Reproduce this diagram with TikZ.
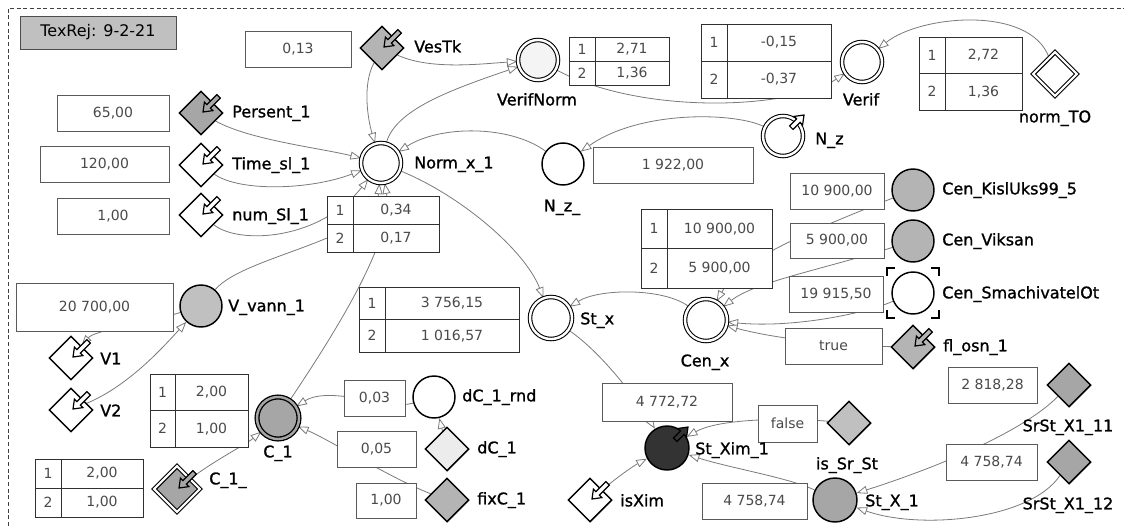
\documentclass[tikz,border=0pt]{standalone}
\usepackage{fontspec}
\setmainfont{DejaVu Sans}
\newfontfamily\lblfam[FakeBold=1.2]{DejaVu Sans}
\usetikzlibrary{shapes.geometric,arrows.meta,backgrounds}
\definecolor{lineC}{HTML}{7A7A7A}
\definecolor{boxC}{HTML}{5A5A5A}
\definecolor{tabC}{HTML}{303030}
\definecolor{valC}{HTML}{4A4A4A}
\definecolor{gA}{HTML}{A6A6A6}
\definecolor{gB}{HTML}{B4B4B4}
\definecolor{gC}{HTML}{C0C0C0}
\definecolor{gL}{HTML}{ECECEC}
\definecolor{gV}{HTML}{F4F4F4}
\definecolor{gD}{HTML}{333333}
\newcommand\valfnt{\fontsize{10.5}{12}\selectfont}
\newcommand\lblfnt{\lblfam\fontsize{12}{14}\selectfont}
\tikzset{
  conn/.style={draw=lineC, line width=0.6pt, -{Triangle[length=8pt,width=6pt,fill=white]}},
  vbox/.style n args={2}{rectangle, draw=boxC, line width=0.75pt, fill=white, inner sep=0pt,
     minimum width=#1*0.75pt, minimum height=#2*0.75pt, font=\valfnt, text=valC},
  tabbox/.style={rectangle, draw=tabC, line width=0.75pt, fill=white, inner sep=0pt},
  tabline/.style={draw=tabC, line width=0.75pt},
  vtext/.style={font=\valfnt, text=valC, inner sep=0pt},
  circ/.style={circle, draw=black, line width=1.1pt, fill=white, inner sep=0pt, minimum size=#1*1.5pt},
  dcirc/.style={circle, draw=black, line width=0.8pt, double=white, double distance=1.8pt,
     fill=white, inner sep=0pt, minimum size=(#1-2)*1.5pt},
  dia/.style={diamond, aspect=1, draw=black, line width=1.1pt, fill=white, inner sep=0pt, minimum size=#1*1.5pt},
  ddia/.style={diamond, aspect=1, draw=black, line width=0.8pt, double=white, double distance=1.6pt,
     fill=white, inner sep=0pt, minimum size=(#1-2)*1.5pt},
  lbl/.style={font=\lblfnt, text=black, inner sep=0pt, text height=9pt, text depth=2.5pt},
  frame/.style={draw=black!75, line width=0.6pt, dash pattern=on 3pt off 2pt},
  brk/.style={draw=black, line width=1.2pt},
  inarr/.pic={\draw[line width=0.9pt, fill=#1, line join=miter]
     (2,-1) -- (11.9,-2.42) -- (9.43,-4.89) -- (19.37,-14.83) -- (15.83,-18.37)
     -- (5.89,-8.43) -- (3.42,-10.9) -- cycle;},
  outarr/.pic={\draw[line width=0.9pt, fill=#1, line join=miter]
     (21,-21) -- (19.58,-11.1) -- (17.11,-13.57) -- (10.07,-6.53) -- (6.53,-10.07)
     -- (13.57,-17.11) -- (11.1,-19.58) -- cycle;}
}
\newcommand\valtab[8]{%
  \node[tabbox, minimum width={(#4-#2)*0.75pt}, minimum height={(#5-#3)*0.75pt}, anchor=north west] (#1) at (#2,#3) {};
  \draw[tabline] (#6,#3) -- (#6,#5) (#2,{(#3+#5)/2}) -- (#4,{(#3+#5)/2});
  \node[vtext] at ({(#2+#6)/2},{(3*#3+#5)/4}) {1};
  \node[vtext] at ({(#2+#6)/2},{(#3+3*#5)/4}) {2};
  \node[vtext] at ({(#6+#4)/2},{(3*#3+#5)/4}) {#7};
  \node[vtext] at ({(#6+#4)/2},{(#3+3*#5)/4}) {#8};
}
\begin{document}
\begin{tikzpicture}[x=0.75pt,y=-0.75pt]
\useasboundingbox (0,0) rectangle (1124,526);

% title
\node[rectangle, draw=black!70, line width=0.75pt, fill=gC, inner sep=0pt,
  minimum width=156*0.75pt, minimum height=33*0.75pt, font=\fontsize{12}{14}\selectfont] (tex) at (98,32.5) {TexRej: 9-2-21};

% value boxes
\node[vbox={106}{36}] (v013) at (298,49) {0,13};
\node[vbox={112}{36}] (v65) at (113,113) {65,00};
\node[vbox={129}{36}] (v120) at (104.5,164) {120,00};
\node[vbox={112}{36}] (v1) at (113,216) {1,00};
\node[vbox={160}{36}] (v1922) at (673,165) {1 922,00};
\node[vbox={94}{36}] (vkisl) at (837,191) {10 900,00};
\node[vbox={94}{35}] (vviks) at (837,240.5) {5 900,00};
\node[vbox={94}{36}] (vsmach) at (836,294) {19 915,50};
\node[vbox={97}{36}] (vtrue) at (833.5,346) {true};
\node[vbox={157}{48}] (v20700) at (94.5,307) {20 700,00};
\node[vbox={61}{36}] (v003) at (374.5,398) {0,03};
\node[vbox={79}{36}] (v005) at (376.5,449) {0,05};
\node[vbox={60}{35}] (v100b) at (386,500.5) {1,00};
\node[vbox={130}{38}] (v4772) at (667,402) {4 772,72};
\node[vbox={59}{37}] (vfalse) at (787.5,423.5) {false};
\node[vbox={105}{36}] (v4758a) at (754.5,501) {4 758,74};
\node[vbox={89}{36}] (v2818) at (992.5,385) {2 818,28};
\node[vbox={91}{36}] (v4758b) at (991.5,462) {4 758,74};

% tables
\valtab{tnorm}{327}{196}{439}{252}{353}{0,34}{0,17}
\valtab{tvn}{569}{37}{669}{85}{595}{2,71}{1,36}
\valtab{tverif}{701}{24}{831}{98}{727}{-0,15}{-0,37}
\valtab{tnto}{919}{37}{1022}{110}{945}{2,72}{1,36}
\valtab{tcen}{641}{209}{772}{288}{667}{10 900,00}{5 900,00}
\valtab{tst}{359}{287}{519}{352}{385}{3 756,15}{1 016,57}
\valtab{tcone}{150}{374}{248}{447}{175}{2,00}{1,00}
\valtab{tconeu}{35}{459}{143}{517}{61}{2,00}{1,00}

% circles
\node[dcirc=22] (normx) at (381,163) {};
\node[dcirc=22, fill=gV] (verifnorm) at (538,60) {};
\node[dcirc=22] (verif) at (862,62) {};
\node[dcirc=22] (nz) at (783,136) {};
\node[circ=21] (nzu) at (563,164) {};
\node[circ=21, fill=gB] (kisl) at (913,190) {};
\node[circ=21, fill=gB] (viks) at (913,241) {};
\node[circ=21] (smach) at (913,293) {};
\node[dcirc=23] (cenx) at (706,320) {};
\node[dcirc=23] (stx) at (551,318) {};
\node[circ=21, fill=gC] (vvann) at (201,306) {};
\node[dcirc=23, fill=gA, double=gA, line width=1pt] (cone) at (278,418) {};
\node[circ=21] (dcrnd) at (434,397) {};
\node[circ=22, fill=gD] (stxim) at (667,448) {};
\node[circ=22, fill=gA] (stxone) at (835,500) {};

% diamonds
\node[dia=22, fill=gB] (vestk) at (382,48) {};
\node[dia=22, fill=gA] (persent) at (201,113) {};
\node[dia=22] (timesl) at (201,165) {};
\node[dia=22] (numsl) at (201,215) {};
\node[ddia=24] (normto) at (1055,74) {};
\node[dia=22, fill=gB] (flosn) at (913,347) {};
\node[dia=22] (vone) at (71,358) {};
\node[dia=22] (vtwo) at (71,410) {};
\node[ddia=25, fill=gA] (coneu) at (177,489) {};
\node[dia=22, fill=gL] (dcone) at (447,449) {};
\node[dia=22, fill=gB] (fixc) at (447,500) {};
\node[dia=22, fill=gC] (dfalse) at (849,423) {};
\node[dia=22] (isxim) at (590,500) {};
\node[dia=22, fill=gA] (srsta) at (1069,385) {};
\node[dia=22, fill=gA] (srstb) at (1069,462) {};

% icons
\pic at (382,48) {inarr=gB};
\pic at (201,113) {inarr=gA};
\pic at (201,165) {inarr=white};
\pic at (201,215) {inarr=white};
\pic at (913,347) {inarr=gB};
\pic at (71,358) {inarr=white};
\pic at (71,410) {inarr=white};
\pic at (177,489) {inarr=gA};
\pic at (590,500) {inarr=white};
\pic at (783,136) {outarr=white};
\pic at (667,448) {outarr=gD};

% brackets round Cen_SmachivatelOt
\draw[brk] (887,276) -- (887,268) -- (895,268);
\draw[brk] (931,268) -- (939,268) -- (939,276);
\draw[brk] (887,310) -- (887,318) -- (895,318);
\draw[brk] (931,318) -- (939,318) -- (939,310);

% labels
\node[lbl, anchor=west] (lvestk) at (414,48) {VesTk};
\node[lbl, anchor=west] (lpersent) at (232,113) {Persent\_1};
\node[lbl, anchor=west] (ltimesl) at (232,165) {Time\_sl\_1};
\node[lbl, anchor=west] (lnumsl) at (232,216) {num\_Sl\_1};
\node[lbl, anchor=west] (lnormx) at (414,164) {Norm\_x\_1};
\node[lbl] (lverifnorm) at (537,101) {VerifNorm};
\node[lbl] (lverif) at (861,101) {Verif};
\node[lbl] (lnormto) at (1055,118) {norm\_TO};
\node[lbl, anchor=west] (lnz) at (815,140) {N\_z};
\node[lbl] (lnzu) at (562,207) {N\_z\_};
\node[lbl, anchor=west] (lkisl) at (942,190) {Cen\_KislUks99\_5};
\node[lbl, anchor=west] (lviks) at (942,241) {Cen\_Viksan};
\node[lbl, anchor=west] (lsmach) at (942,294) {Cen\_SmachivatelOt};
\node[lbl, anchor=west] (lflosn) at (943,347) {fl\_osn\_1};
\node[lbl] (lcenx) at (705,362) {Cen\_x};
\node[lbl, anchor=west] (lstx) at (580,320) {St\_x};
\node[lbl, anchor=west] (lvvann) at (228,307) {V\_vann\_1};
\node[lbl, anchor=west] (lvone) at (100,360) {V1};
\node[lbl, anchor=west] (lvtwo) at (100,412) {V2};
\node[lbl] (lcone) at (278,453) {C\_1};
\node[lbl, anchor=west] (lconeu) at (209,480) {C\_1\_};
\node[lbl, anchor=west] (ldcrnd) at (462,397) {dC\_1\_rnd};
\node[lbl, anchor=west] (ldcone) at (477,449) {dC\_1};
\node[lbl, anchor=west] (lfixc) at (477,500) {fixC\_1};
\node[lbl, anchor=west] (lstxim) at (695,450) {St\_Xim\_1};
\node[lbl, anchor=west] (lisxim) at (620,502) {isXim};
\node[lbl] (lissrst) at (847,465) {is\_Sr\_St};
\node[lbl, anchor=west] (lstxone) at (865,502) {St\_X\_1};
\node[lbl] (lsrsta) at (1068,427) {SrSt\_X1\_11};
\node[lbl] (lsrstb) at (1068,505) {SrSt\_X1\_12};

\begin{pgfonlayer}{background}
\draw[frame] (8,526) -- (8,8) -- (1124,8);
\draw[conn] (vestk) .. controls (362,85) and (368,120) .. (normx);
\draw[conn] (vestk) .. controls (430,70) and (480,64) .. (verifnorm);
\draw[conn] (normx) .. controls (395,110) and (450,90) .. (verifnorm);
\draw[conn] (verifnorm) .. controls (640,115) and (790,110) .. (verif);
\draw[conn] (normto) .. controls (1030,5) and (920,15) .. (verif);
\draw[conn] (persent) .. controls (250,140) and (320,148) .. (normx);
\draw[conn] (timesl) .. controls (240,192) and (310,190) .. (normx);
\draw[conn] (numsl) .. controls (240,245) and (320,240) .. (normx);
\draw[conn] (vvann) .. controls (245,255) and (375,240) .. (normx);
\draw[conn] (cone) .. controls (330,340) and (395,240) .. (normx);
\draw[conn] (normx) .. controls (460,195) and (525,250) .. (stx);
\draw[conn] (nz) .. controls (735,112) and (640,110) .. (nzu);
\draw[conn] (nzu) .. controls (510,125) and (440,125) .. (normx);
\draw[conn] (cenx) .. controls (665,288) and (600,288) .. (stx);
\draw[conn] (kisl) .. controls (800,235) and (740,260) .. (cenx);
\draw[conn] (viks) .. controls (820,270) and (755,282) .. (cenx);
\draw[conn] (smach) .. controls (860,315) and (790,328) .. (cenx);
\draw[conn] (flosn) .. controls (850,346) and (780,340) .. (cenx);
\draw[conn] (stx) .. controls (605,355) and (640,405) .. (stxim);
\draw[conn] (dfalse) .. controls (790,418) and (720,418) .. (stxim);
\draw[conn] (isxim) .. controls (620,475) and (635,465) .. (stxim);
\draw[conn] (stxone) .. controls (790,478) and (730,468) .. (stxim);
\draw[conn] (srsta) .. controls (1030,425) and (960,460) .. (stxone);
\draw[conn] (srstb) .. controls (1030,520) and (920,530) .. (stxone);
\draw[conn] (vtwo) .. controls (130,385) and (165,345) .. (vvann);
\draw[conn] (vvann) .. controls (140,325) and (95,330) .. (vone);
\draw[conn] (dcrnd) .. controls (390,410) and (330,385) .. (cone);
\draw[conn] (dcone) -- (dcrnd);
\draw[conn] (fixc) .. controls (390,478) and (330,440) .. (cone);
\draw[conn] (coneu) .. controls (215,460) and (245,445) .. (cone);
\end{pgfonlayer}
\end{tikzpicture}
\end{document}
